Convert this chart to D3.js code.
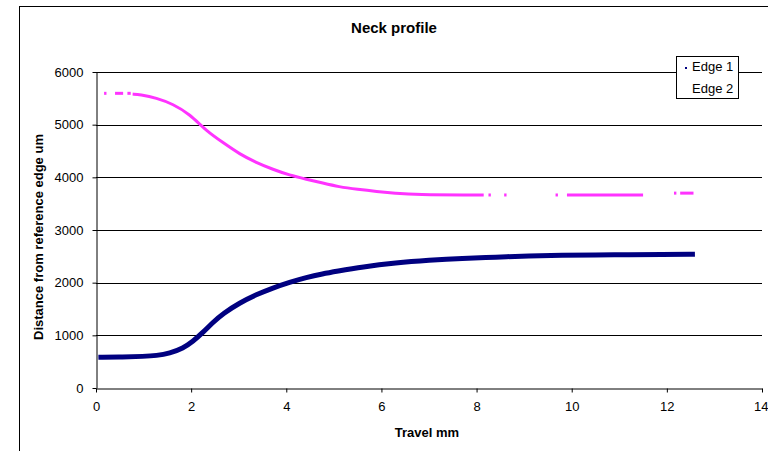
<!DOCTYPE html>
<html>
<head>
<meta charset="utf-8">
<script src="https://cdn.jsdelivr.net/npm/d3@7"></script>
<style>
body { margin: 0; background: #fff; }
svg { font-family: "Liberation Sans", Arial, sans-serif; }
</style>
</head>
<body>
<svg width="768" height="451"></svg>
<script>
// values
var edge1X = [0.05, 0.57, 1.0, 1.27, 1.55, 1.83, 2.04, 2.25, 2.46, 2.67, 3.02, 3.37, 3.72, 4.07, 4.42, 4.77, 5.05, 5.6, 6.3, 7.0, 7.7, 8.4, 9.1, 9.8, 10.5, 11.2, 11.9, 12.59];
var edge1Y = [582, 589, 600, 614, 660, 755, 886, 1057, 1247, 1412, 1616, 1774, 1901, 2008, 2100, 2170, 2215, 2300, 2376, 2426, 2464, 2483, 2510, 2521, 2528, 2528, 2534, 2540];

// edge 2 has gaps, so it is kept as separate runs
var edge2Runs = [
  {x: [0.17, 0.22], y: [5595, 5595]},
  {x: [0.4, 0.57], y: [5595, 5595]},
  {x: [0.66, 0.73], y: [5595, 5595]},
  {x: [0.77, 0.92, 1.27, 1.62, 1.97, 2.32, 2.67, 3.02, 3.37, 3.72, 4.07, 4.42, 4.77, 5.1, 5.5, 5.9, 6.3, 6.67, 8.15],
   y: [5580, 5570, 5510, 5390, 5200, 4880, 4660, 4440, 4280, 4150, 4040, 3965, 3890, 3820, 3770, 3730, 3700, 3670, 3665]},
  {x: [8.25, 8.3], y: [3665, 3665]},
  {x: [8.58, 8.63], y: [3665, 3665]},
  {x: [9.66, 9.71], y: [3665, 3665]},
  {x: [9.9, 11.5], y: [3665, 3665]},
  {x: [12.15, 12.2], y: [3700, 3700]},
  {x: [12.28, 12.56], y: [3700, 3700]}
];

var xTicks = [0, 2, 4, 6, 8, 10, 12, 14];
var yTicks = [0, 1000, 2000, 3000, 4000, 5000, 6000];
var seriesNames = ["Edge 1", "Edge 2"];
var seriesColors = ["#000080", "#ff33ff"];

var svg = d3.select("svg");

// chart area border
svg.append("rect")
  .attr("x", 19.5).attr("y", 6.5)
  .attr("width", 800).attr("height", 500)
  .attr("fill", "none").attr("stroke", "#000");

var xScale = d3.scaleLinear().domain([0, 14]).range([96, 762]);
var yScale = d3.scaleLinear().domain([0, 6000]).range([388, 72]);

// gridlines
svg.append("g")
  .selectAll("line")
  .data(yTicks.filter(function(d) { return d > 0; }))
  .enter()
  .append("line")
  .attr("x1", 96).attr("x2", 762)
  .attr("y1", function(d) { return Math.round(yScale(d)) + 0.5; })
  .attr("y2", function(d) { return Math.round(yScale(d)) + 0.5; })
  .attr("stroke", "#000");

var xAxis = svg.append("g")
  .attr("transform", "translate(0,388.5)")
  .call(d3.axisBottom(xScale).tickValues(xTicks).tickFormat(d3.format("d")).tickSize(4).tickPadding(9).tickSizeOuter(0));

var yAxis = svg.append("g")
  .attr("transform", "translate(96.5,0)")
  .call(d3.axisLeft(yScale).tickValues(yTicks).tickFormat(d3.format("d")).tickSize(4).tickPadding(9).tickSizeOuter(0));

[xAxis, yAxis].forEach(function(a) {
  a.selectAll("text").attr("font-size", 13).attr("font-family", "Liberation Sans, Arial, sans-serif").attr("fill", "#000");
  a.select(".domain").attr("stroke", "#000");
  a.selectAll(".tick line").attr("stroke", "#000");
});

// last label sits against the right edge
xAxis.selectAll(".tick text")
  .filter(function(d) { return d === 14; })
  .attr("text-anchor", "end")
  .attr("dx", 6);

var line = d3.line()
  .x(function(d) { return xScale(d[0]); })
  .y(function(d) { return yScale(d[1]); })
  .curve(d3.curveBasis);

// Edge 1
svg.append("path")
  .datum(d3.zip(edge1X, edge1Y))
  .attr("d", line)
  .attr("fill", "none")
  .attr("stroke", seriesColors[0])
  .attr("stroke-width", 5);

// Edge 2
svg.append("g")
  .selectAll("path")
  .data(edge2Runs)
  .enter()
  .append("path")
  .attr("d", function(r) { return line(d3.zip(r.x, r.y)); })
  .attr("fill", "none")
  .attr("stroke", seriesColors[1])
  .attr("stroke-width", 3);

// titles
svg.append("text")
  .attr("x", 394).attr("y", 33)
  .attr("text-anchor", "middle")
  .attr("font-size", 15).attr("font-weight", "bold")
  .text("Neck profile");

svg.append("text")
  .attr("x", 427).attr("y", 437)
  .attr("text-anchor", "middle")
  .attr("font-size", 13).attr("font-weight", "bold")
  .text("Travel mm");

svg.append("text")
  .attr("transform", "translate(43,237) rotate(-90)")
  .attr("text-anchor", "middle")
  .attr("font-size", 13).attr("font-weight", "bold")
  .text("Distance from reference edge um");

// legend
var legend = svg.append("g");
legend.append("rect")
  .attr("x", 676.5).attr("y", 56.5)
  .attr("width", 62).attr("height", 42)
  .attr("fill", "#fff").attr("stroke", "#000");

seriesNames.forEach(function(name, i) {
  legend.append("rect")
    .attr("x", 685).attr("y", 67 + i * 22)
    .attr("width", 2).attr("height", 2)
    .attr("fill", i === 0 ? seriesColors[0] : "#fff");
  legend.append("text")
    .attr("x", 692).attr("y", 71 + i * 22)
    .attr("font-size", 13)
    .text(name);
});
</script>
</body>
</html>
